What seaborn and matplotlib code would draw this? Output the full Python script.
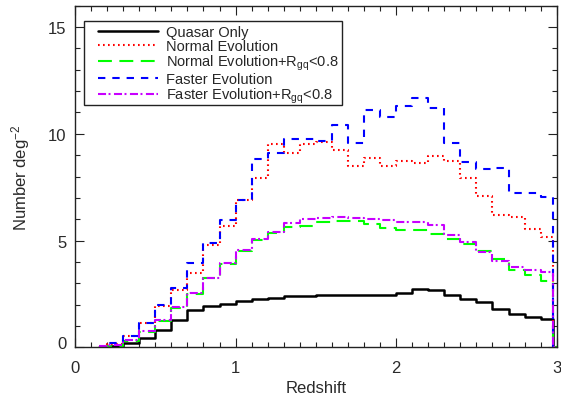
import numpy as np
import pandas as pd
import matplotlib
matplotlib.use("Agg")
import matplotlib.pyplot as plt
import seaborn as sns
from matplotlib.ticker import MultipleLocator
from matplotlib.patches import Rectangle
from matplotlib.transforms import ScaledTranslation

# Bin centres (redshift); last point closes the histogram at z=3
redshift = [0.15, 0.25, 0.35, 0.45, 0.55, 0.65, 0.75, 0.85, 0.95, 1.05,
            1.15, 1.25, 1.35, 1.45, 1.55, 1.65, 1.75, 1.85, 1.95, 2.05,
            2.15, 2.25, 2.35, 2.45, 2.55, 2.65, 2.75, 2.85, 2.95, 3.0]

quasar_only = [0.0, 0.08, 0.22, 0.45, 0.81, 1.27, 1.74, 1.93, 2.05, 2.17,
               2.25, 2.32, 2.38, 2.41, 2.43, 2.44, 2.45, 2.45, 2.46, 2.56,
               2.72, 2.67, 2.47, 2.28, 2.10, 1.79, 1.54, 1.41, 1.32, 0.0]

normal_evol = [0.0, 0.14, 0.54, 1.15, 1.94, 2.67, 3.48, 4.77, 5.70, 6.91,
               7.95, 9.53, 9.08, 9.53, 9.61, 9.22, 8.49, 8.88, 8.49, 8.73,
               8.62, 8.96, 8.73, 7.95, 7.10, 6.19, 6.09, 5.54, 5.15, 0.0]

normal_evol_rgq = [0.02, 0.08, 0.31, 0.73, 1.24, 1.85, 2.52, 3.24, 3.91, 4.51,
                   5.03, 5.34, 5.62, 5.70, 5.85, 5.90, 5.90, 5.78, 5.57, 5.51,
                   5.51, 5.31, 5.05, 4.84, 4.53, 4.15, 3.60, 3.40, 3.09, 0.0]

faster_evol = [0.0, 0.19, 0.54, 1.15, 1.96, 2.78, 3.96, 4.89, 5.98, 6.91,
               8.83, 9.08, 9.77, 9.77, 9.66, 10.39, 9.58, 11.13, 10.77, 11.32,
               11.67, 11.21, 9.58, 8.68, 8.34, 8.38, 7.25, 7.25, 7.02, 0.0]

faster_evol_rgq = [0.05, 0.11, 0.34, 0.75, 1.26, 1.87, 2.54, 3.26, 3.93, 4.55,
                   5.07, 5.38, 5.80, 6.01, 6.06, 6.09, 6.06, 6.01, 5.96, 5.85,
                   5.85, 5.73, 5.26, 4.95, 4.46, 4.02, 3.76, 3.62, 3.55, 0.0]

labels = ["Quasar Only",
          "Normal Evolution",
          r"Normal Evolution+R$\mathregular{_{gq}}$<0.8",
          "Faster Evolution",
          r"Faster Evolution+R$\mathregular{_{gq}}$<0.8"]

x_ticks = [0, 1, 2, 3]
y_ticks = [0, 5, 10, 15]

sns.set_theme(style="ticks")
plt.rcParams["font.family"] = ["Liberation Sans", "DejaVu Sans"]
plt.rcParams["lines.scale_dashes"] = False

fig = plt.figure(figsize=(5.61, 4.06), dpi=100)
ax = fig.add_axes([0.1337, 0.1421, 0.8586, 0.8414])

series = [
    (quasar_only, labels[0], "#000000", 1.8, "-"),
    (normal_evol, labels[1], "#ff0000", 1.5, (0, (1.2, 2.4))),
    (normal_evol_rgq, labels[2], "#00ff00", 1.5, (0, (10, 5.4))),
    (faster_evol, labels[3], "#0000ff", 1.5, (0, (5.3, 5.0))),
    (faster_evol_rgq, labels[4], "#c800ff", 1.5, (0, (5.8, 1.8, 1.4, 2.5))),
]

for vals, lab, col, lw, ls in series:
    df = pd.DataFrame({"z": redshift, "n": vals})
    sns.lineplot(data=df, x="z", y="n", ax=ax, color=col, lw=lw,
                 drawstyle="steps-mid", estimator=None, sort=False,
                 label=lab)
    ax.lines[-1].set_linestyle(ls)
    ax.lines[-1].set_dash_capstyle("butt")

ax.set_xlim(0, 3)
ax.set_ylim(0, 16)
ax.set_xticks(x_ticks)
ax.set_yticks(y_ticks)
ax.xaxis.set_minor_locator(MultipleLocator(0.1))
ax.yaxis.set_minor_locator(MultipleLocator(1))
ax.tick_params(which="both", direction="in", top=True, right=True,
               color="#222222", width=0.8, labelsize=12, labelcolor="#2a2a2a")
ax.tick_params(which="major", length=6.5)
ax.tick_params(which="minor", length=3.6)
ax.tick_params(axis="x", pad=9)
ax.tick_params(axis="y", pad=6)
for sp in ax.spines.values():
    sp.set_linewidth(1.0)
    sp.set_color("#222222")

# raise the "0" y label slightly, as in the reference
fig.canvas.draw()
ylab0 = ax.yaxis.get_major_ticks()[0].label1
ylab0.set_transform(ylab0.get_transform() + ScaledTranslation(0, 5 / 100, fig.dpi_scale_trans))

ax.set_xlabel("Redshift", fontsize=12, color="#2a2a2a", labelpad=4)
ax.set_ylabel(r"Number deg$\mathregular{^{-2}}$", fontsize=12, color="#2a2a2a",
              labelpad=12)

leg = ax.legend(loc="upper left", bbox_to_anchor=(0.0477, 0.944),
                borderaxespad=0, frameon=False, fontsize=10.5,
                handlelength=4.1, handletextpad=0.55, labelspacing=0.0,
                handleheight=0.5, borderpad=0)
frame = Rectangle((0.0187, 0.709), 0.554 - 0.0187, 0.955 - 0.709,
                  transform=ax.transAxes, fill=True, facecolor="white",
                  edgecolor="#222222", lw=1.0, zorder=4.5)
ax.add_patch(frame)
leg.set_zorder(5)

fig.savefig("out.png", dpi=100)
